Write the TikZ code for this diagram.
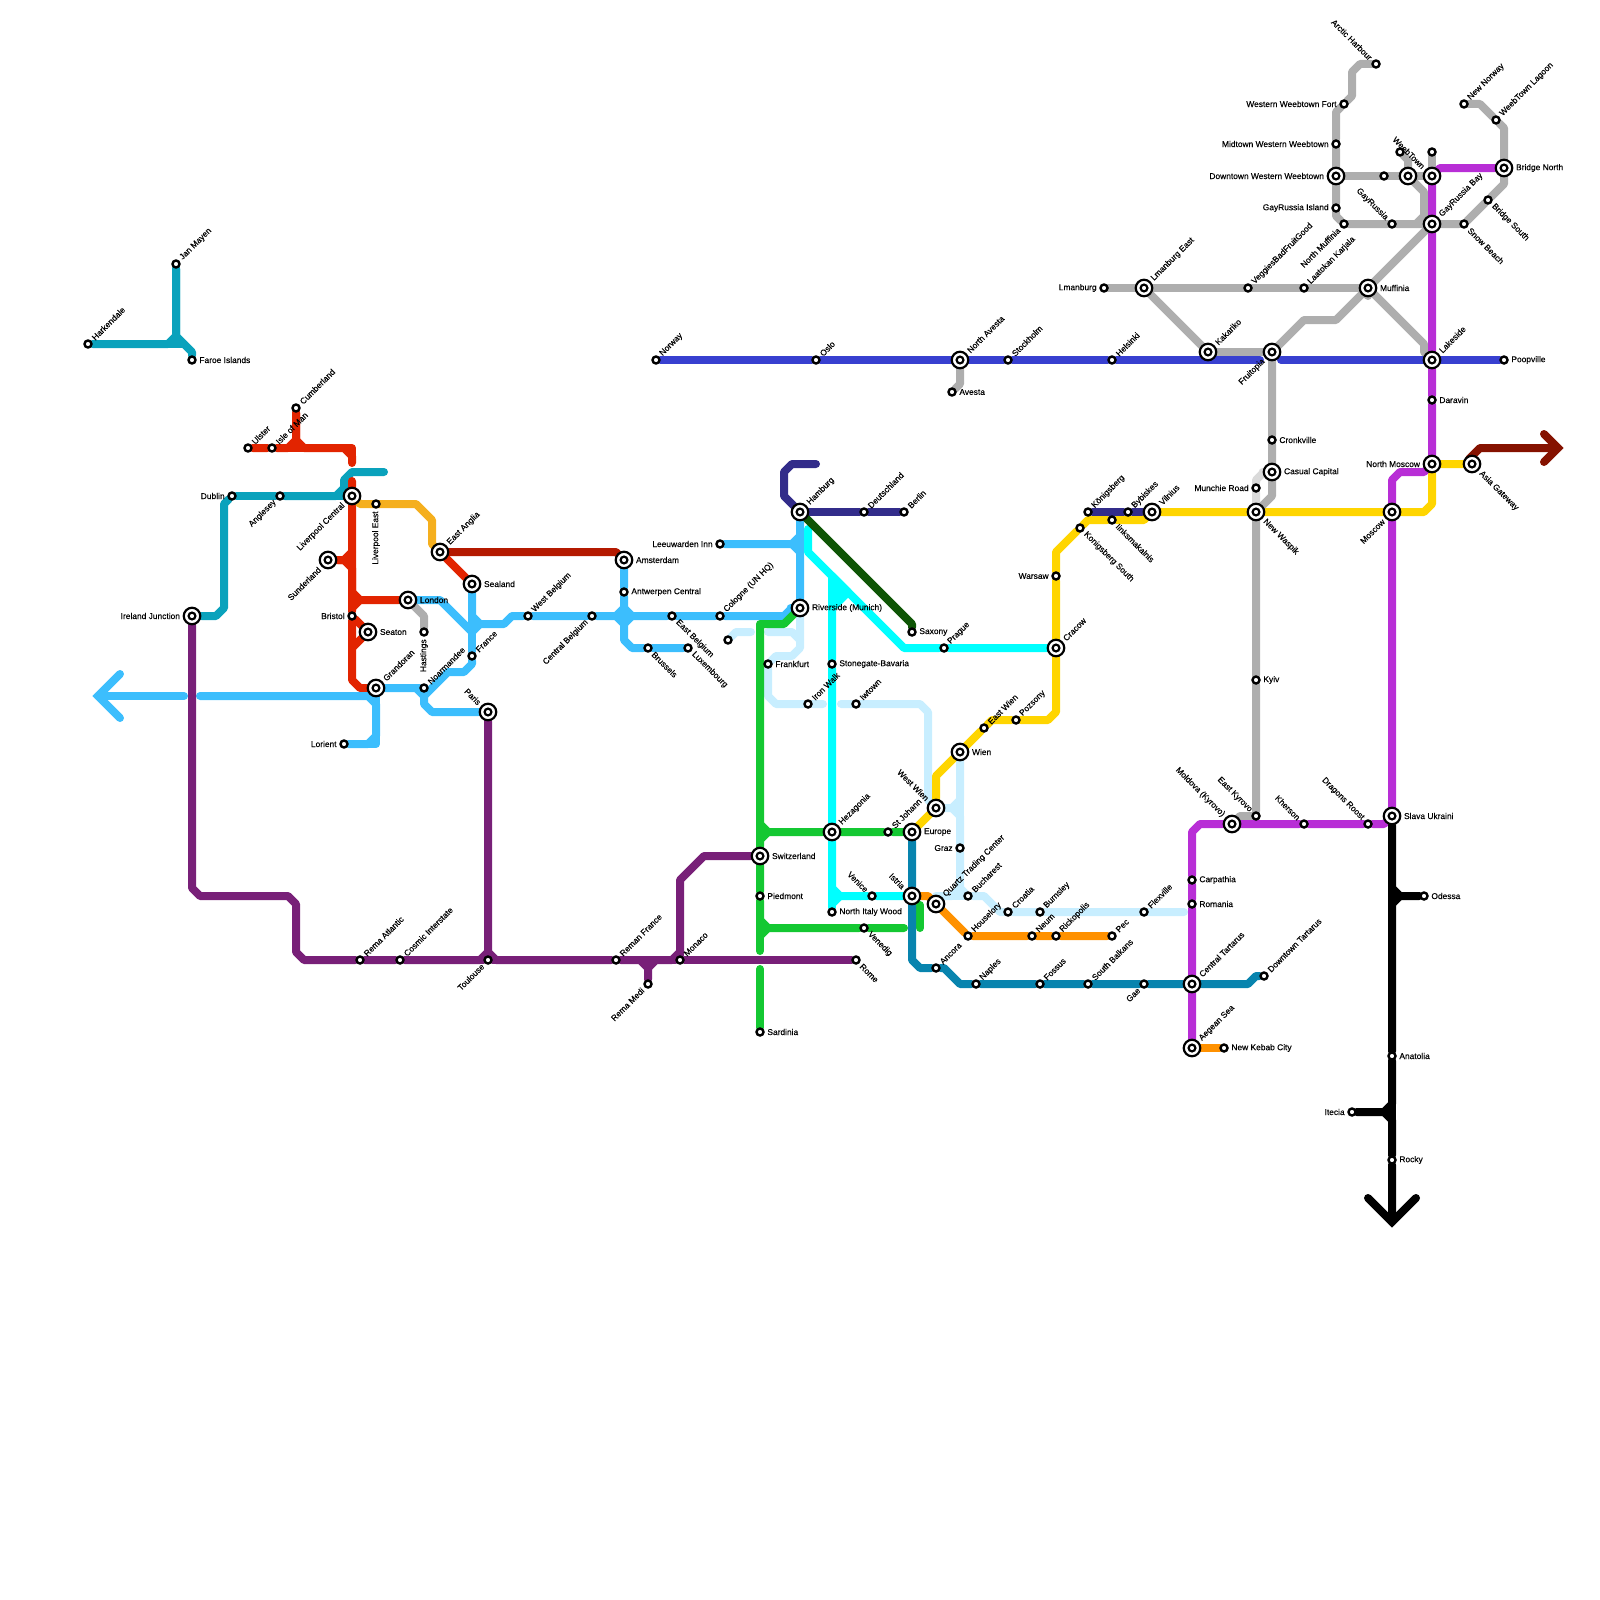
\documentclass[tikz,border=0pt]{standalone}
\usepackage{fontspec}
\setmainfont[FakeBold=0.2]{Liberation Sans}
\usepackage{xcolor}
\usepackage{tikz}
\usetikzlibrary{backgrounds}
\definecolor{mteal}{RGB}{10,162,188}
\definecolor{mred}{RGB}{226,36,0}
\definecolor{mdarkred}{RGB}{180,25,0}
\definecolor{mamber}{RGB}{245,175,30}
\definecolor{msky}{RGB}{60,190,253}
\definecolor{mpurple}{RGB}{120,32,120}
\definecolor{mgreen}{RGB}{20,200,50}
\definecolor{mcyan}{RGB}{0,255,255}
\definecolor{mpale}{RGB}{200,238,255}
\definecolor{mnavy}{RGB}{50,44,138}
\definecolor{mforest}{RGB}{14,85,5}
\definecolor{myellow}{RGB}{255,213,0}
\definecolor{morange}{RGB}{255,145,0}
\definecolor{msea}{RGB}{8,132,174}
\definecolor{mgrey}{RGB}{174,174,174}
\definecolor{mlightgrey}{RGB}{218,218,218}
\definecolor{mblue}{RGB}{56,64,208}
\definecolor{mmagenta}{RGB}{184,46,214}
\definecolor{mmaroon}{RGB}{133,18,0}
\tikzset{
  stop/.style={circle, draw=black, fill=white, line width=2.4pt,
    minimum size=7pt, inner sep=0pt},
  hub/.style={circle, draw=black, fill=white, line width=2.2pt,
    minimum size=16.5pt, inner sep=0pt,
    path picture={\draw[black, line width=2.2pt] (path picture bounding box.center) circle (3.4pt);}},
  lab/.style={font=\fontsize{8.4}{9}\selectfont, inner xsep=2.5pt, inner ysep=0pt, text=black},
  lbe/.style={label={[lab, anchor=west]0:{#1}}},
  lbw/.style={label={[lab, anchor=east]180:{#1}}},
  lbne/.style={label={[lab, anchor=west, rotate=45]45:{#1}}},
  lbnw/.style={label={[lab, anchor=east, rotate=-45]135:{#1}}},
  lbse/.style={label={[lab, anchor=west, rotate=-45]-45:{#1}}},
  lbsw/.style={label={[lab, anchor=east, rotate=45]225:{#1}}},
  lbs/.style={label={[lab, anchor=east, rotate=90]270:{#1}}},
  metro/.style={line width=8pt, line cap=round, line join=round},
  tealline/.style={metro, color=mteal},
  redline/.style={metro, color=mred},
  darkredline/.style={metro, color=mdarkred},
  amberline/.style={metro, color=mamber},
  skyline/.style={metro, color=msky},
  purpleline/.style={metro, color=mpurple},
  greenline/.style={metro, color=mgreen},
  cyanline/.style={metro, color=mcyan},
  paleline/.style={metro, color=mpale},
  navyline/.style={metro, color=mnavy},
  forestline/.style={metro, color=mforest},
  yellowline/.style={metro, color=myellow},
  orangeline/.style={metro, color=morange},
  sealine/.style={metro, color=msea},
  greyline/.style={metro, color=mgrey},
  lightgreyline/.style={metro, color=mlightgrey},
  blueline/.style={metro, color=mblue},
  magentaline/.style={metro, color=mmagenta},
  blackline/.style={metro, color=black},
  maroonline/.style={metro, color=mmaroon},
  headline/.style={line join=miter}
}
\begin{document}
\begin{tikzpicture}[x=1pt, y=-1pt]
  \useasboundingbox (0,0) rectangle (1600,1600);

  % Free line ends
  \coordinate (tealend) at (384,472);
  \coordinate (redstub) at (352,463);
  \coordinate (redtop) at (352,481);
  \coordinate (skywest) at (200,696);
  \coordinate (skyarrow) at (184,696);
  \coordinate (skytip) at (98,696);
  \coordinate (skyarmn) at (120,674);
  \coordinate (skyarms) at (120,718);
  \coordinate (navyend) at (816,464);
  \coordinate (cyantop) at (808,529);
  \coordinate (palea) at (751,632);
  \coordinate (paleb) at (768,632);
  \coordinate (palec) at (823,704);
  \coordinate (paled) at (841,704);
  \coordinate (palee) at (936,896);
  \coordinate (palef) at (1184,912);
  \coordinate (greena) at (760,951);
  \coordinate (greenb) at (760,969);
  \coordinate (greenc) at (904,928);
  \coordinate (greend) at (920,905);
  \coordinate (greene) at (920,928);
  \coordinate (bluea) at (1260,360);
  \coordinate (blueb) at (1281,360);
  \coordinate (blacktip) at (1392,1222);
  \coordinate (blackarml) at (1368,1198);
  \coordinate (blackarmr) at (1416,1198);
  \coordinate (maroonstart) at (1469,459);
  \coordinate (maroontip) at (1558,448);
  \coordinate (maroonarmu) at (1544,434);
  \coordinate (maroonarmd) at (1544,462);

  % North west
  \node[stop, lbne={Harkendale}] (harkendale) at (88,344) {};
  \node[stop, lbne={Jan Mayen}] (janmayen) at (176,264) {};
  \node[stop, lbe={Faroe Islands}] (faroe) at (192,360) {};
  \node[stop, lbne={Cumberland}] (cumberland) at (296,408) {};
  \node[stop, lbne={Ulster}] (ulster) at (248,448) {};
  \node[stop, lbne={Isle of Man}] (isleofman) at (272,448) {};
  \node[hub, lbsw={Liverpool Central}] (liverpool) at (352,496) {};
  \node[stop, lbw={Dublin}] (dublin) at (232,496) {};
  \node[stop, lbsw={Anglesey}] (anglesey) at (280,496) {};
  \node[stop, lbs={Liverpool East}] (liverpooleast) at (376,504) {};
  \node[hub, lbsw={Sunderland}] (sunderland) at (328,560) {};
  \node[hub, lbne={East Anglia}] (eastanglia) at (440,552) {};
  \node[hub, lbe={Sealand}] (sealand) at (472,584) {};
  \node[hub, lbw={Ireland Junction}] (ireland) at (192,616) {};
  \node[hub, lbe={London}] (london) at (408,600) {};
  \node[stop, lbw={Bristol}] (bristol) at (352,616) {};
  \node[hub, lbe={Seaton}] (seaton) at (368,632) {};
  \node[stop, lbs={Hastings}] (hastings) at (424,632) {};
  \node[hub, lbne={Grandoran}] (grandoran) at (376,688) {};
  \node[stop, lbne={Noarmandee}] (noarmandee) at (424,688) {};
  \node[stop, lbne={France}] (france) at (472,656) {};
  \node[hub, lbnw={Paris}] (paris) at (488,712) {};
  \node[stop, lbw={Lorient}] (lorient) at (344,744) {};

  % Low countries
  \node[stop, lbne={West Belgium}] (westbelgium) at (528,616) {};
  \node[stop, lbsw={Central Belgium}] (centralbelgium) at (592,616) {};
  \node[hub, lbe={Amsterdam}] (amsterdam) at (624,560) {};
  \node[stop, lbe={Antwerpen Central}] (antwerpen) at (624,592) {};
  \node[stop, lbse={East Belgium}] (eastbelgium) at (672,616) {};
  \node[stop, lbse={Brussels}] (brussels) at (648,648) {};
  \node[stop, lbse={Luxembourg}] (luxembourg) at (688,648) {};
  \node[stop, lbw={Leeuwarden Inn}] (leeuwarden) at (720,544) {};
  \node[stop, lbne={Cologne (UN HQ)}] (cologne) at (720,616) {};
  \node[stop] (palestop) at (728,640) {};

  % South coast
  \node[stop, lbne={Rema Atlantic}] (remaatlantic) at (360,960) {};
  \node[stop, lbne={Cosmic Interstate}] (cosmic) at (400,960) {};
  \node[stop, lbsw={Toulouse}] (toulouse) at (488,960) {};
  \node[stop, lbne={Reman France}] (remanfrance) at (616,960) {};
  \node[stop, lbsw={Rema Medi}] (remamedi) at (648,984) {};
  \node[stop, lbne={Monaco}] (monaco) at (680,960) {};
  \node[stop, lbse={Rome}] (rome) at (856,960) {};

  % Central Europe
  \node[hub, lbne={Hamburg}] (hamburg) at (800,512) {};
  \node[stop, lbne={Deutschland}] (deutschland) at (864,512) {};
  \node[stop, lbne={Berlin}] (berlin) at (904,512) {};
  \node[hub, lbe={Riverside (Munich)}] (riverside) at (800,608) {};
  \node[stop, lbe={Saxony}] (saxony) at (912,632) {};
  \node[stop, lbne={Prague}] (prague) at (944,648) {};
  \node[stop, lbe={Frankfurt}] (frankfurt) at (768,664) {};
  \node[stop, lbe={Stonegate-Bavaria}] (stonegate) at (832,664) {};
  \node[stop, lbne={Iron Walk}] (ironwalk) at (808,704) {};
  \node[stop, lbne={Iwtown}] (iwtown) at (856,704) {};
  \node[stop, lbne={East Wien}] (eastwien) at (984,728) {};
  \node[stop, lbne={Pozsony}] (pozsony) at (1016,720) {};
  \node[hub, lbe={Wien}] (wien) at (960,752) {};
  \node[hub, lbe={Switzerland}] (switzerland) at (760,856) {};
  \node[hub, lbne={Hezagonia}] (hezagonia) at (832,832) {};
  \node[stop, lbne={St Johann}] (stjohann) at (888,832) {};
  \node[hub, lbe={Europe}] (europe) at (912,832) {};
  \node[hub, lbnw={West Wien}] (westwien) at (936,808) {};
  \node[stop, lbw={Graz}] (graz) at (960,848) {};
  \node[hub, lbnw={Istria}] (istria) at (912,896) {};
  \node[hub, lbne={Quartz Trading Center}] (quartz) at (936,904) {};
  \node[stop, lbnw={Venice}] (venice) at (872,896) {};
  \node[stop, lbne={Bucharest}] (bucharest) at (968,896) {};
  \node[stop, lbe={Piedmont}] (piedmont) at (760,896) {};
  \node[stop, lbe={North Italy Wood}] (northitaly) at (832,912) {};
  \node[stop, lbse={Venedig}] (venedig) at (864,928) {};
  \node[stop, lbe={Sardinia}] (sardinia) at (760,1032) {};

  % Balkans
  \node[stop, lbne={Croatia}] (croatia) at (1008,912) {};
  \node[stop, lbne={Burnsley}] (burnsley) at (1040,912) {};
  \node[stop, lbne={Flexville}] (flexville) at (1144,912) {};
  \node[stop, lbne={Houselory}] (houselory) at (968,936) {};
  \node[stop, lbne={Neum}] (neum) at (1032,936) {};
  \node[stop, lbne={Rickopolis}] (rickopolis) at (1056,936) {};
  \node[stop, lbne={Pec}] (pec) at (1112,936) {};
  \node[stop, lbne={Ancora}] (ancora) at (936,968) {};
  \node[stop, lbne={Naples}] (naples) at (976,984) {};
  \node[stop, lbne={Fossus}] (fossus) at (1040,984) {};
  \node[stop, lbne={South Balkans}] (southbalkans) at (1088,984) {};
  \node[stop, lbsw={Gae}] (gae) at (1144,984) {};
  \node[hub, lbne={Central Tartarus}] (centraltartarus) at (1192,984) {};
  \node[stop, lbe={Carpathia}] (carpathia) at (1192,880) {};
  \node[stop, lbe={Romania}] (romania) at (1192,904) {};
  \node[hub, lbne={Aegean Sea}] (aegean) at (1192,1048) {};
  \node[stop, lbe={New Kebab City}] (newkebab) at (1224,1048) {};
  \node[stop, lbne={Downtown Tartarus}] (downtowntartarus) at (1264,976) {};

  % Ukraine
  \node[hub, lbnw={Moldova (Kyrovo)}] (moldova) at (1232,824) {};
  \node[stop, lbnw={East Kyrovo}] (eastkyrovo) at (1256,816) {};
  \node[stop, lbnw={Kherson}] (kherson) at (1304,824) {};
  \node[stop, lbnw={Dragons Roost}] (dragons) at (1368,824) {};
  \node[hub, lbe={Slava Ukraini}] (slava) at (1392,816) {};
  \node[stop, lbe={Odessa}] (odessa) at (1424,896) {};
  \node[stop, lbe={Anatolia}] (anatolia) at (1392,1056) {};
  \node[stop, lbw={Itecia}] (itecia) at (1352,1112) {};
  \node[stop, lbe={Rocky}] (rocky) at (1392,1160) {};
  \node[stop, lbe={Kyiv}] (kyiv) at (1256,680) {};

  % Baltic
  \node[stop, lbne={Norway}] (norway) at (656,360) {};
  \node[stop, lbne={Oslo}] (oslo) at (816,360) {};
  \node[hub, lbne={North Avesta}] (northavesta) at (960,360) {};
  \node[stop, lbe={Avesta}] (avesta) at (952,392) {};
  \node[stop, lbne={Stockholm}] (stockholm) at (1008,360) {};
  \node[stop, lbne={Helsinki}] (helsinki) at (1112,360) {};
  \node[stop, lbw={Lmanburg}] (lmanburg) at (1104,288) {};
  \node[hub, lbne={Lmanburg East}] (lmanburgeast) at (1144,288) {};
  \node[stop, lbne={VeggiesBadFruitGood}] (veggies) at (1248,288) {};
  \node[stop, lbne={Laatokan Karjala}] (laatokan) at (1304,288) {};
  \node[hub, lbe={Muffinia}] (muffinia) at (1368,288) {};
  \node[hub, lbne={Kakariko}] (kakariko) at (1208,352) {};
  \node[hub, lbsw={Fruitopia}] (fruitopia) at (1272,352) {};
  \node[stop, lbe={Cronkville}] (cronkville) at (1272,440) {};
  \node[hub, lbe={Casual Capital}] (casual) at (1272,472) {};
  \node[stop, lbw={Munchie Road}] (munchie) at (1256,488) {};
  \node[hub, lbse={New Waspik}] (newwaspik) at (1256,512) {};
  \node[hub, lbne={Vilnius}] (vilnius) at (1152,512) {};
  \node[stop, lbne={Königsberg}] (konigsberg) at (1088,512) {};
  \node[stop, lbne={Bybiskes}] (bybiskes) at (1128,512) {};
  \node[stop, lbse={Iinksmakalnis}] (iinks) at (1112,520) {};
  \node[stop, lbse={Konigsberg South}] (konigsbergsouth) at (1080,528) {};
  \node[stop, lbw={Warsaw}] (warsaw) at (1056,576) {};
  \node[hub, lbne={Cracow}] (cracow) at (1056,648) {};

  % Far north east
  \node[stop, lbnw={Arctic Harbour}] (arctic) at (1376,64) {};
  \node[stop, lbw={Western Weebtown Fort}] (westernfort) at (1344,104) {};
  \node[stop, lbw={Midtown Western Weebtown}] (midtown) at (1336,144) {};
  \node[hub, lbw={Downtown Western Weebtown}] (downtown) at (1336,176) {};
  \node[stop] (weebeast) at (1384,176) {};
  \node[stop] (weebnorth) at (1400,152) {};
  \node[hub] (weebcentre) at (1408,176) {};
  \node[stop] (townnorth) at (1432,152) {};
  \node[hub, lbnw={WeebTown}] (weebtown) at (1432,176) {};
  \node[stop, lbw={GayRussia Island}] (gayisland) at (1336,208) {};
  \node[stop, lbsw={North Muffinia}] (northmuffinia) at (1344,224) {};
  \node[stop, lbnw={GayRussia}] (gayrussia) at (1392,224) {};
  \node[hub, lbne={GayRussia Bay}] (gaybay) at (1432,224) {};
  \node[stop, lbse={Snow Beach}] (snowbeach) at (1464,224) {};
  \node[stop, lbse={Bridge South}] (bridgesouth) at (1488,200) {};
  \node[hub, lbe={Bridge North}] (bridgenorth) at (1504,168) {};
  \node[stop, lbne={New Norway}] (newnorway) at (1464,104) {};
  \node[stop, lbne={WeebTown Lagoon}] (lagoon) at (1496,120) {};
  \node[hub, lbne={Lakeside}] (lakeside) at (1432,360) {};
  \node[stop, lbe={Poopville}] (poopville) at (1504,360) {};
  \node[stop, lbe={Daravin}] (daravin) at (1432,400) {};
  \node[hub, lbw={North Moscow}] (northmoscow) at (1432,464) {};
  \node[hub, lbse={Asia Gateway}] (asia) at (1472,464) {};
  \node[hub, lbsw={Moscow}] (moscow) at (1392,512) {};

  \begin{scope}[on background layer]
    % North sea teal
    \draw[tealline] (harkendale) -- (168,344) -- (176,336) -- (janmayen);
    \draw[tealline] (janmayen) -- (176,336) -- (192,352) -- (faroe);
    \draw[tealline] (168,344) -- (184,344);
    \draw[tealline] (dublin) -- (anglesey) -- (liverpool);
    \draw[tealline] (anglesey) -- (336,496) -- (344,488) -- (344,480) -- (352,472) -- (tealend);
    \draw[tealline] (dublin) -- (224,504) -- (224,608) -- (216,616) -- (ireland);

    % Red
    \draw[redline] (cumberland) -- (296,440) -- (288,448) -- (isleofman) -- (ulster);
    \draw[redline] (cumberland) -- (296,440) -- (304,448) -- (344,448) -- (352,456) -- (redstub);
    \draw[redline] (288,448) -- (304,448);
    \draw[redline] (344,448) -- (352,448) -- (352,456);
    \draw[redline] (redtop) -- (liverpool) -- (352,552) -- (344,560) -- (sunderland);
    \draw[redline] (sunderland) -- (344,560) -- (352,568) -- (352,592) -- (360,600) -- (london);
    \draw[redline] (352,552) -- (352,608) -- (360,600);
    \draw[redline] (352,608) -- (bristol) -- (352,680) -- (360,688) -- (grandoran);
    \draw[redline] (bristol) -- (seaton) -- (352,648);
    \draw[redline] (eastanglia) -- (sealand);

    % Amber and dark red
    \draw[amberline] (liverpool) -- (360,504) -- (416,504) -- (432,520) -- (432,544) -- (eastanglia);
    \draw[darkredline] (eastanglia) -- (616,552) -- (amsterdam);

    % Sky blue
    \draw[skyline] (skytip) -- (skyarrow);
    \draw[skyline, headline] (skyarmn) -- (skytip) -- (skyarms);
    \draw[skyline] (skywest) -- (368,696) -- (376,704) -- (376,736) -- (368,744) -- (lorient);
    \draw[skyline] (grandoran) -- (376,744) -- (368,744);
    \draw[skyline] (grandoran) -- (noarmandee) -- (424,704) -- (432,712) -- (paris);
    \draw[skyline] (416,688) -- (424,696) -- (448,672) -- (464,672) -- (472,664) -- (france);
    \draw[skyline] (france) -- (sealand);
    \draw[skyline] (london) -- (440,600) -- (472,632) -- (480,624);
    \draw[skyline] (sealand) -- (472,616) -- (480,624) -- (504,624) -- (512,616) -- (westbelgium) -- (centralbelgium) -- (616,616);
    \draw[skyline] (amsterdam) -- (antwerpen) -- (624,608) -- (616,616) -- (624,624) -- (624,640) -- (632,648) -- (brussels) -- (luxembourg);
    \draw[skyline] (624,608) -- (632,616) -- (eastbelgium) -- (cologne) -- (784,616) -- (792,608) -- (riverside);
    \draw[skyline] (632,616) -- (624,624);
    \draw[skyline] (616,616) -- (632,616);
    \draw[skyline] (624,608) -- (624,624);
    \draw[skyline] (hamburg) -- (800,536) -- (792,544) -- (leeuwarden);
    \draw[skyline] (792,544) -- (800,552) -- (riverside);
    \draw[skyline] (hamburg) -- (riverside);

    % Pale blue
    \draw[paleline] (palestop) -- (736,632) -- (palea);
    \draw[paleline] (paleb) -- (792,632) -- (800,640);
    \draw[paleline] (riverside) -- (800,648) -- (792,656) -- (776,656) -- (frankfurt) -- (768,696) -- (776,704) -- (ironwalk) -- (palec);
    \draw[paleline] (paled) -- (iwtown) -- (920,704) -- (928,712) -- (928,800) -- (westwien);
    \draw[paleline] (wien) -- (960,800) -- (952,808) -- (westwien);
    \draw[paleline] (952,808) -- (960,816) -- (graz) -- (960,888) -- (bucharest) -- (984,896) -- (1000,912) -- (croatia) -- (burnsley) -- (flexville) -- (palef);
    \draw[paleline] (960,888) -- (952,896) -- (palee);
    \draw[paleline] (952,896) -- (bucharest);
    \draw[paleline] (wien) -- (960,816);

    % Purple
    \draw[purpleline] (ireland) -- (192,888) -- (200,896) -- (288,896) -- (296,904) -- (296,952) -- (304,960) -- (remaatlantic) -- (cosmic) -- (480,960) -- (488,952);
    \draw[purpleline] (paris) -- (488,952) -- (496,960) -- (remanfrance) -- (640,960) -- (648,968) -- (remamedi);
    \draw[purpleline] (648,968) -- (656,960) -- (672,960) -- (680,952) -- (680,880) -- (704,856) -- (switzerland);
    \draw[purpleline] (640,960) -- (monaco) -- (rome);
    \draw[purpleline] (480,960) -- (toulouse) -- (496,960);
    \draw[purpleline] (680,952) -- (monaco);

    % Green
    \draw[greenline] (riverside) -- (784,624) -- (760,624) -- (760,824) -- (768,832) -- (hezagonia) -- (stjohann) -- (europe);
    \draw[greenline] (760,824) -- (switzerland) -- (760,840) -- (768,832);
    \draw[greenline] (switzerland) -- (piedmont) -- (760,920) -- (768,928) -- (venedig) -- (greenc);
    \draw[greenline] (760,920) -- (greena);
    \draw[greenline] (760,936) -- (768,928);
    \draw[greenline] (greenb) -- (sardinia);
    \draw[greenline] (greend) -- (greene);

    % Cyan
    \draw[cyanline] (cyantop) -- (808,552) -- (904,648) -- (prague) -- (cracow);
    \draw[cyanline] (848,592) -- (832,608) -- (stonegate) -- (hezagonia);
    \draw[cyanline, fill=mcyan] (832,576) -- (848,592) -- (832,608) -- cycle;
    \draw[cyanline] (hezagonia) -- (832,888) -- (840,896) -- (venice) -- (istria);
    \draw[cyanline] (832,888) -- (northitaly);
    \draw[cyanline] (840,896) -- (832,904);

    % Navy and dark green
    \draw[navyline] (hamburg) -- (deutschland) -- (berlin);
    \draw[navyline] (hamburg) -- (784,496) -- (784,472) -- (792,464) -- (navyend);
    \draw[navyline] (konigsberg) -- (bybiskes) -- (vilnius);
    \draw[forestline] (hamburg) -- (912,624) -- (saxony);

    % Yellow
    \draw[yellowline] (europe) -- (westwien) -- (936,776) -- (wien) -- (eastwien) -- (992,720) -- (pozsony) -- (1048,720) -- (1056,712) -- (cracow);
    \draw[yellowline] (cracow) -- (warsaw) -- (1056,552) -- (konigsbergsouth) -- (1088,520) -- (iinks) -- (1144,520) -- (vilnius);
    \draw[yellowline] (vilnius) -- (newwaspik) -- (moscow) -- (1424,512) -- (1432,504) -- (northmoscow) -- (asia);

    % Orange and sea blue
    \draw[orangeline] (istria) -- (928,896) -- (quartz) -- (houselory) -- (neum) -- (rickopolis) -- (pec);
    \draw[orangeline] (aegean) -- (newkebab);
    \draw[sealine] (europe) -- (istria) -- (912,960) -- (920,968) -- (ancora) -- (944,968) -- (960,984) -- (naples) -- (fossus) -- (southbalkans) -- (gae) -- (centraltartarus) -- (1248,984) -- (1256,976) -- (downtowntartarus);

    % Grey
    \draw[greyline] (london) -- (424,616) -- (hastings);
    \draw[greyline] (northavesta) -- (960,384) -- (avesta);
    \draw[greyline] (arctic) -- (1360,64) -- (1352,72) -- (1352,96) -- (westernfort) -- (1336,112) -- (midtown) -- (downtown) -- (gayisland) -- (1336,216) -- (northmuffinia) -- (gayrussia) -- (1416,224) -- (gaybay);
    \draw[greyline] (downtown) -- (weebeast) -- (weebcentre) -- (weebtown);
    \draw[greyline] (weebnorth) -- (1408,160) -- (weebcentre) -- (1424,192) -- (1424,216) -- (1416,224);
    \draw[greyline] (1424,216) -- (gaybay);
    \draw[greyline] (townnorth) -- (weebtown);
    \draw[greyline] (gaybay) -- (snowbeach) -- (bridgesouth) -- (1504,184) -- (bridgenorth) -- (1504,128) -- (lagoon) -- (1480,104) -- (newnorway);
    \draw[greyline] (muffinia) -- (gaybay);
    \draw[greyline] (muffinia) -- (1424,344) -- (1424,352) -- (lakeside);
    \draw[greyline] (lmanburg) -- (lmanburgeast) -- (veggies) -- (laatokan) -- (muffinia);
    \draw[greyline] (1360,288) -- (1368,296);
    \draw[greyline] (fruitopia) -- (1304,320) -- (1336,320) -- (muffinia);
    \draw[greyline] (lmanburgeast) -- (kakariko) -- (fruitopia);
    \draw[lightgreyline] (casual) -- (1264,472) -- (1256,480) -- (munchie) -- (newwaspik);
    \draw[greyline] (fruitopia) -- (cronkville) -- (casual) -- (1272,496) -- (1264,504) -- (newwaspik);
    \draw[greyline] (newwaspik) -- (kyiv) -- (eastkyrovo) -- (1240,816) -- (moldova);

    % Blue
    \draw[blueline] (norway) -- (oslo) -- (northavesta) -- (stockholm) -- (helsinki) -- (bluea);
    \draw[blueline] (blueb) -- (lakeside) -- (poopville);

    % Magenta
    \draw[magentaline] (bridgenorth) -- (1440,168) -- (weebtown) -- (gaybay) -- (lakeside) -- (daravin) -- (northmoscow);
    \draw[magentaline] (northmoscow) -- (1424,472) -- (1400,472) -- (1392,480) -- (moscow) -- (slava);
    \draw[magentaline] (slava) -- (1384,824) -- (dragons) -- (kherson) -- (moldova) -- (1200,824) -- (1192,832) -- (carpathia) -- (romania) -- (centraltartarus) -- (aegean);

    % Black and maroon
    \draw[blackline] (slava) -- (1392,888) -- (1400,896) -- (odessa);
    \draw[blackline] (1392,904) -- (1400,896);
    \draw[blackline] (1392,888) -- (anatolia) -- (1392,1104) -- (1384,1112) -- (itecia);
    \draw[blackline] (1384,1112) -- (1392,1120) -- (rocky) -- (blacktip);
    \draw[blackline] (anatolia) -- (1392,1120);
    \draw[blackline, headline] (blackarml) -- (blacktip) -- (blackarmr);
    \draw[maroonline] (maroonstart) -- (1480,448) -- (maroontip);
    \draw[maroonline, headline] (maroonarmu) -- (maroontip) -- (maroonarmd);
  \end{scope}
\end{tikzpicture}
\end{document}
